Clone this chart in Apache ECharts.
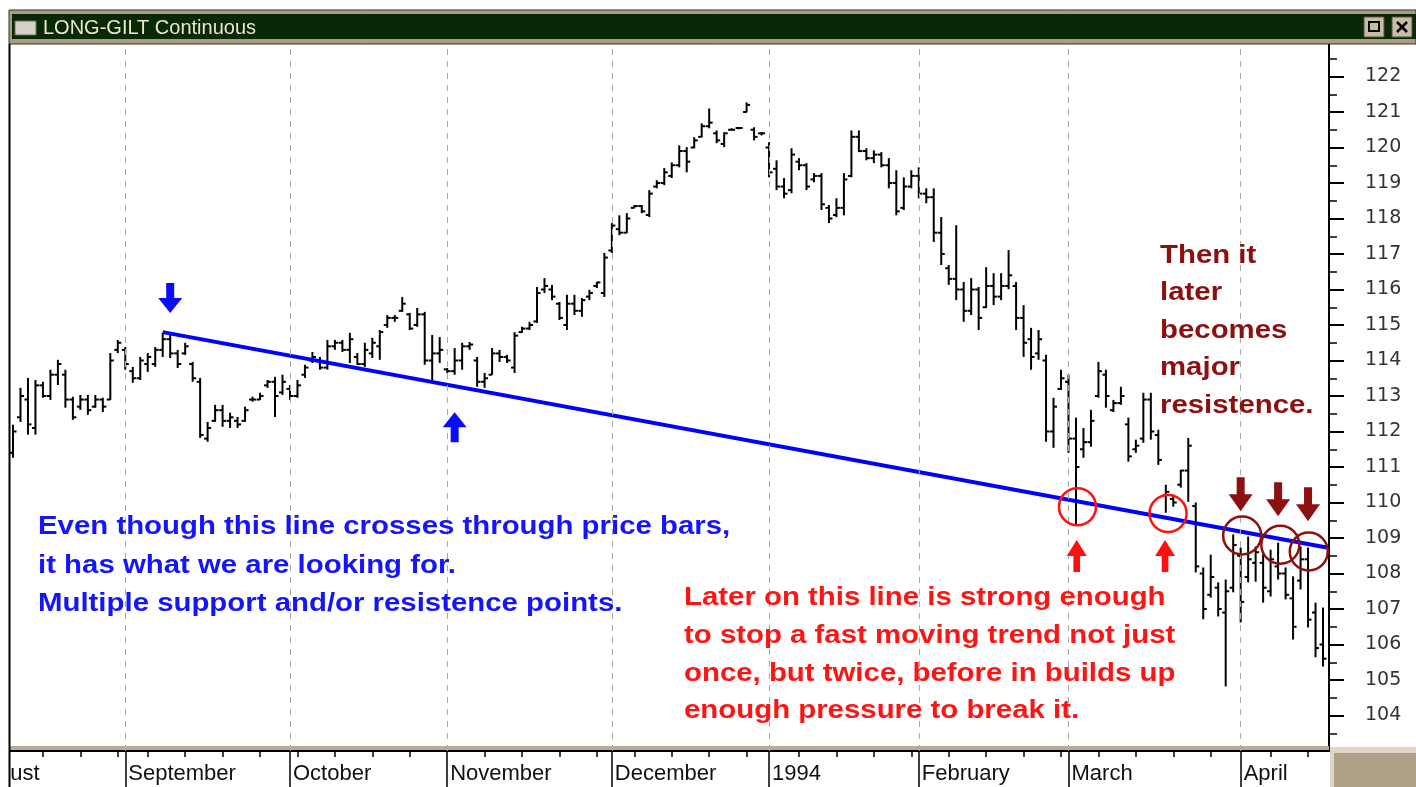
<!DOCTYPE html>
<html>
<head>
<meta charset="utf-8">
<title>LONG-GILT Continuous</title>
<script src="https://cdn.jsdelivr.net/npm/echarts@6/dist/echarts.min.js"></script>
<style>
  html, body { margin: 0; padding: 0; background: #fff; }
  #chart { width: 1416px; height: 787px; }
</style>
</head>
<body>
<div id="chart"></div>
<script>
// daily bars, [open, high, low, close], one array per month
const aug = [
  [111.4, 112.19, 111.26, 112.0], [112.4, 113.23, 112.27, 113.0], [112.9, 113.51, 111.91, 112.2],
  [112.1, 113.45, 111.91, 113.3], [113.3, 113.40, 112.95, 113.0], [113.0, 113.74, 112.89, 113.6],
  [113.6, 114.02, 113.31, 113.9], [113.6, 113.74, 112.67, 112.9], [112.9, 112.98, 112.33, 112.4],
  [112.7, 113.03, 112.61, 112.9], [112.9, 113.03, 112.47, 112.6], [112.7, 113.03, 112.67, 112.9],
  [112.9, 112.95, 112.55, 112.7], [112.9, 114.21, 112.89, 114.0], [114.3, 114.58, 114.21, 114.5]
];
const sep = [
  [114.3, 114.38, 113.74, 113.9], [113.7, 113.82, 113.37, 113.5], [113.5, 114.10, 113.45, 114.0],
  [113.9, 114.21, 113.68, 114.1], [113.9, 114.38, 113.82, 114.3], [114.3, 114.78, 114.10, 114.6],
  [114.6, 114.78, 114.07, 114.2], [114.2, 114.30, 113.79, 113.9], [114.2, 114.50, 114.16, 114.4],
  [113.9, 113.96, 113.40, 113.5], [113.4, 113.51, 111.82, 111.9], [111.8, 112.27, 111.71, 112.1],
  [112.3, 112.75, 112.27, 112.6], [112.6, 112.75, 112.13, 112.3], [112.3, 112.53, 112.10, 112.4],
  [112.3, 112.41, 112.10, 112.2], [112.3, 112.70, 112.27, 112.6], [112.9, 112.98, 112.84, 112.9],
  [112.9, 113.09, 112.89, 113.0], [113.3, 113.45, 113.23, 113.4], [113.4, 113.54, 112.41, 113.0],
  [113.1, 113.60, 113.03, 113.4]
];
const oct = [
  [113.2, 113.31, 112.89, 113.0], [113.0, 113.45, 112.95, 113.3], [113.6, 113.88, 113.51, 113.8],
  [114.0, 114.24, 113.93, 114.1], [114.0, 114.10, 113.74, 113.8], [113.8, 114.58, 113.74, 114.4],
  [114.4, 114.58, 114.30, 114.5], [114.5, 114.58, 114.24, 114.3], [114.3, 114.78, 113.93, 114.6],
  [114.1, 114.21, 113.88, 113.9], [113.9, 114.50, 113.82, 114.3], [114.2, 114.64, 114.07, 114.5],
  [114.4, 114.86, 114.02, 114.8], [115.0, 115.28, 114.92, 115.2], [115.2, 115.28, 115.09, 115.2],
  [115.4, 115.79, 115.37, 115.6], [115.3, 115.34, 114.86, 114.9], [115.0, 115.48, 114.95, 115.3],
  [115.3, 115.37, 113.88, 114.0], [114.0, 114.72, 113.45, 114.2], [114.2, 114.66, 113.93, 114.3]
];
const nov = [
  [113.75, 113.79, 113.65, 113.7], [113.7, 114.35, 113.60, 114.0], [114.0, 114.50, 113.74, 114.4],
  [114.4, 114.52, 114.30, 114.45], [114.0, 114.10, 113.26, 113.4], [113.4, 113.65, 113.23, 113.5],
  [113.6, 114.35, 113.60, 114.2], [114.2, 114.30, 113.96, 114.1], [114.1, 114.16, 113.93, 114.0],
  [113.8, 114.80, 113.65, 114.7], [114.8, 114.95, 114.78, 114.9], [114.9, 115.09, 114.86, 115.0],
  [115.1, 116.07, 115.06, 115.9], [116.0, 116.32, 115.90, 116.1], [116.0, 116.13, 115.70, 115.8],
  [115.6, 115.65, 115.14, 115.2], [115.0, 115.85, 114.86, 115.6], [115.6, 115.85, 115.28, 115.4],
  [115.4, 115.76, 115.23, 115.7], [115.8, 115.99, 115.70, 115.9], [116.1, 116.21, 116.04, 116.2],
  [115.9, 117.03, 115.79, 116.9]
];
const dec = [
  [117.1, 117.87, 117.03, 117.8], [117.7, 118.09, 117.53, 117.6], [117.6, 118.15, 117.59, 118.0],
  [118.3, 118.38, 118.29, 118.35], [118.35, 118.38, 118.15, 118.2], [118.1, 118.80, 118.04, 118.7],
  [118.9, 119.08, 118.85, 119.0], [119.0, 119.42, 118.94, 119.3], [119.2, 119.58, 119.14, 119.5],
  [119.5, 120.06, 119.44, 119.9], [119.9, 120.01, 119.30, 119.6], [120.0, 120.29, 119.98, 120.2],
  [120.3, 120.68, 120.29, 120.6], [120.6, 121.10, 120.54, 120.7], [120.4, 120.48, 120.12, 120.2],
  [120.1, 120.43, 120.01, 120.4], [120.5, 120.54, 120.48, 120.5], [120.55, 120.57, 120.54, 120.55],
  [121.0, 121.27, 120.99, 121.2], [120.5, 120.57, 120.20, 120.3], [120.4, 120.43, 120.34, 120.4]
];
const jan = [
  [120.0, 120.15, 119.16, 119.3], [119.4, 119.64, 118.80, 118.9], [118.9, 119.14, 118.57, 118.7],
  [118.8, 119.98, 118.71, 119.8], [119.6, 119.70, 119.36, 119.5], [119.5, 119.56, 118.80, 118.9],
  [119.1, 119.28, 119.02, 119.2], [119.2, 119.28, 118.24, 118.4], [118.3, 118.38, 117.87, 118.0],
  [118.1, 118.57, 118.04, 118.3], [118.3, 119.28, 118.09, 119.1], [119.2, 120.48, 119.16, 120.3],
  [120.3, 120.48, 119.87, 119.9], [119.9, 119.98, 119.64, 119.7], [119.7, 119.92, 119.56, 119.8],
  [119.8, 119.87, 119.44, 119.5], [119.5, 119.70, 118.85, 119.0], [119.0, 119.36, 118.09, 118.2],
  [118.3, 119.16, 118.24, 118.9], [118.9, 119.36, 118.85, 119.2]
];
const feb = [
  [119.2, 119.44, 118.57, 118.7], [118.7, 118.85, 118.43, 118.6], [118.6, 118.85, 117.34, 117.6],
  [117.6, 118.04, 116.69, 117.0], [116.6, 116.69, 116.13, 116.3], [116.3, 117.81, 115.70, 116.0],
  [116.0, 116.21, 115.09, 115.4], [115.4, 116.32, 115.28, 116.0], [116.0, 116.07, 114.86, 115.2],
  [115.5, 116.63, 115.48, 116.1], [116.1, 116.46, 115.56, 115.8], [115.8, 116.46, 115.70, 116.1],
  [116.1, 117.11, 116.01, 116.4], [116.1, 116.21, 114.86, 115.2], [115.2, 115.56, 114.10, 114.5],
  [114.6, 114.92, 113.74, 114.1], [114.2, 114.86, 114.02, 114.6], [114.0, 114.16, 111.71, 112.0],
  [112.0, 112.95, 111.54, 112.7], [113.2, 113.74, 113.17, 113.5]
];
const mar = [
  [113.4, 113.60, 111.40, 111.8], [111.8, 112.39, 109.38, 111.0], [111.5, 112.10, 111.26, 111.7],
  [111.7, 112.61, 111.57, 112.3], [113.0, 113.96, 112.95, 113.7], [113.6, 113.74, 112.67, 113.0],
  [112.6, 112.89, 112.55, 112.8], [112.8, 113.26, 112.75, 113.0], [112.2, 112.39, 111.15, 111.3],
  [111.5, 111.77, 111.40, 111.6], [111.8, 113.09, 111.68, 112.9], [112.9, 113.09, 111.77, 112.0],
  [111.9, 112.05, 111.06, 111.2], [110.2, 110.50, 109.71, 110.3], [110.1, 110.22, 109.88, 110.0],
  [110.5, 110.92, 110.42, 110.9], [110.9, 111.82, 110.02, 111.6], [109.9, 110.00, 108.03, 108.2],
  [108.0, 108.17, 106.71, 107.0], [107.4, 108.53, 107.32, 107.9], [107.6, 107.75, 106.79, 107.0],
  [106.9, 107.83, 104.82, 107.5], [107.6, 109.10, 107.47, 108.8]
];
const apr = [
  [108.5, 108.73, 106.62, 107.2], [107.9, 109.04, 107.75, 108.4], [108.3, 108.76, 107.77, 108.6],
  [108.3, 108.62, 107.18, 107.6], [107.5, 108.67, 107.35, 108.4], [108.2, 108.87, 107.83, 108.0],
  [108.0, 108.17, 107.27, 107.4], [107.3, 107.92, 106.14, 106.5], [107.8, 108.76, 107.55, 108.4],
  [108.4, 108.73, 106.48, 106.7], [106.9, 107.18, 105.64, 105.9], [106.0, 107.04, 105.38, 105.6]
];

const monthLabels = ['August', 'September', 'October', 'November', 'December', '1994', 'February', 'March', 'April'];
const firstDay = '1993-08-10';
const holidays = ['1993-08-30', '1993-12-27', '1993-12-28', '1994-01-03', '1994-04-01', '1994-04-04'];

// support line drawn by hand on the original: [bar index, price]
const trendLine = [[20, 114.8], [175.5, 108.73]];
// red circles where the line held, dark red circles where it became resistance
const supportHits = [[142.2, 109.88], [154.3, 109.69]];
const resistHits = [[164.2, 109.07], [169.3, 108.81], [173.1, 108.62]];
const blueDownArrow = [21, 115.76];
const blueUpArrow = [59, 112.12];
const redUpArrows = [[142.1, 108.49], [153.9, 108.49]];
const darkDownArrows = [[164.0, 110.23], [169.0, 110.09], [173.0, 109.95]];

const bars = [].concat(aug, sep, oct, nov, dec, jan, feb, mar, apr);

// trading calendar -> month boundaries and first day of each week
const isTradingDay = d => d.getUTCDay() !== 0 && d.getUTCDay() !== 6 &&
  !holidays.includes(d.toISOString().slice(0, 10));
const days = [];
let d = new Date(firstDay + 'T00:00:00Z');
while (days.length < bars.length) {
  if (isTradingDay(d)) days.push(new Date(d));
  d.setUTCDate(d.getUTCDate() + 1);
}
let augStart = 0;
for (let t = new Date(firstDay.slice(0, 8) + '01T00:00:00Z'); t < days[0]; t.setUTCDate(t.getUTCDate() + 1)) {
  if (isTradingDay(t)) augStart--;
}
const monthStarts = [];
const weekStarts = [];
for (let i = 1; i < days.length; i++) {
  if (days[i].getUTCMonth() !== days[i - 1].getUTCMonth()) monthStarts.push(i);
  if (days[i].getUTCDay() < days[i - 1].getUTCDay()) weekStarts.push(i);
}
const labelOf = {};
monthStarts.forEach((v, j) => { labelOf[v] = monthLabels[j + 1]; });

const xMin = -0.4, xMax = 175.8;
const downPath = 'path://M8,0L16,0L16,15L24,15L12,30L0,15L8,15Z';
const upPath = 'path://M12,0L24,15L16,15L16,30L8,30L8,15L0,15Z';
const FONT = '"Liberation Sans", Arial, sans-serif';

const chart = echarts.init(document.getElementById('chart'));
chart.setOption({
  animation: false,
  backgroundColor: '#fff',
  grid: { left: 10, right: 87, top: 41, bottom: 36 },
  xAxis: [
    {
      type: 'value', min: xMin, max: xMax, position: 'bottom',
      axisLine: { show: true, onZero: false, lineStyle: { color: '#000', width: 2 } },
      axisTick: { show: true, customValues: monthStarts, length: 36, lineStyle: { color: '#000', width: 1.5 } },
      axisLabel: {
        customValues: monthStarts, formatter: v => labelOf[v] || '',
        align: 'left', margin: 12, padding: [0, 0, 0, 3],
        fontFamily: FONT, fontSize: 22, color: '#111'
      },
      splitLine: { show: false }
    },
    {
      type: 'value', min: xMin, max: xMax, position: 'bottom',
      axisLine: { show: false, onZero: false },
      axisTick: { show: true, customValues: weekStarts, length: 6, lineStyle: { color: '#000', width: 1.5 } },
      axisLabel: { show: false },
      splitLine: { show: false }
    }
  ],
  yAxis: {
    type: 'value', position: 'right', min: 103, max: 123, interval: 1,
    axisLine: { show: true, onZero: false, lineStyle: { color: '#000', width: 2 } },
    axisTick: { show: true, length: 15, lineStyle: { color: '#000', width: 2 } },
    minorTick: { show: true, splitNumber: 2, length: 8, lineStyle: { color: '#000', width: 1.5 } },
    axisLabel: {
      margin: 36, fontFamily: '"DejaVu Sans", sans-serif', fontSize: 19, color: '#333',
      formatter: v => (v >= 104 && v <= 122 ? String(v) : '')
    },
    splitLine: { show: false }
  },
  series: [
    {
      type: 'custom',
      data: bars.map((b, i) => [i, b[0], b[1], b[2], b[3]]),
      encode: { x: 0, y: [1, 2, 3, 4] },
      renderItem(params, api) {
        const x = api.value(0);
        const hi = api.coord([x, api.value(2)]);
        const lo = api.coord([x, api.value(3)]);
        const op = api.coord([x, api.value(1)]);
        const cl = api.coord([x, api.value(4)]);
        const st = { stroke: '#000', lineWidth: 2 };
        const bottom = Math.max(lo[1], hi[1] + 2);
        return {
          type: 'group',
          children: [
            { type: 'line', shape: { x1: hi[0], y1: hi[1], x2: hi[0], y2: bottom }, style: st },
            { type: 'line', shape: { x1: op[0] - 3.5, y1: op[1], x2: op[0], y2: op[1] }, style: st },
            { type: 'line', shape: { x1: cl[0], y1: cl[1], x2: cl[0] + 3.5, y2: cl[1] }, style: st }
          ]
        };
      },
      markLine: {
        silent: true, symbol: ['none', 'none'], label: { show: false },
        lineStyle: { color: '#a8a8a8', type: [6, 6], width: 1 },
        data: monthStarts.map(v => ({ xAxis: v }))
      },
      z: 3
    },
    {
      type: 'line',
      data: trendLine,
      symbol: 'none',
      lineStyle: { color: '#0000ff', width: 4 },
      z: 4,
      markPoint: {
        silent: true,
        label: { show: false },
        data: [].concat(
          supportHits.map(c => ({ coord: c, symbol: 'circle', symbolSize: 37,
            itemStyle: { color: 'transparent', borderColor: '#ff1010', borderWidth: 2.5 } })),
          resistHits.map(c => ({ coord: c, symbol: 'circle', symbolSize: 38,
            itemStyle: { color: 'transparent', borderColor: '#8c1010', borderWidth: 2.5 } })),
          [{ coord: blueDownArrow, symbol: downPath, symbolSize: [24, 30], itemStyle: { color: '#0a0aff' } },
           { coord: blueUpArrow, symbol: upPath, symbolSize: [24, 30], itemStyle: { color: '#0a0aff' } }],
          redUpArrows.map(c => ({ coord: c, symbol: upPath, symbolSize: [20, 32], itemStyle: { color: '#ff1010' } })),
          darkDownArrows.map(c => ({ coord: c, symbol: downPath, symbolSize: [24, 34], itemStyle: { color: '#8c1010' } }))
        )
      }
    }
  ]
});

// window chrome and the hand-written notes
const augX = chart.convertToPixel({ xAxisIndex: 0 }, augStart);
const note = (text, x, y, color) => ({
  type: 'text', x, y, z: 120, scaleX: 1.13,
  style: { text, fill: color, font: 'bold 26px ' + FONT, verticalAlign: 'middle' }
});
chart.setOption({
  graphic: [
    { type: 'rect', z: 100, shape: { x: 0, y: 0, width: 9, height: 787 }, style: { fill: '#fff' } },
    { type: 'line', z: 101, shape: { x1: 9.5, y1: 44, x2: 9.5, y2: 787 }, style: { stroke: '#000', lineWidth: 2 } },
    { type: 'rect', z: 100, shape: { x: 9, y: 10, width: 1407, height: 34 }, style: { fill: '#a89c84', stroke: '#3a3020', lineWidth: 1 } },
    { type: 'rect', z: 101, shape: { x: 12, y: 14, width: 1404, height: 25 }, style: { fill: '#082806' } },
    { type: 'rect', z: 102, shape: { x: 15, y: 21, width: 21, height: 14 }, style: { fill: '#d4d2c8', stroke: '#6c6c64', lineWidth: 1 } },
    { type: 'text', z: 102, x: 43, y: 28, style: { text: 'LONG-GILT Continuous', fill: '#ece8c4', font: '20px ' + FONT, verticalAlign: 'middle' } },
    { type: 'rect', z: 102, shape: { x: 1364, y: 17, width: 20, height: 20 }, style: { fill: '#c8bca4', stroke: '#5a5040', lineWidth: 1 } },
    { type: 'rect', z: 103, shape: { x: 1369, y: 22, width: 10, height: 9 }, style: { fill: 'none', stroke: '#000', lineWidth: 2 } },
    { type: 'rect', z: 102, shape: { x: 1392, y: 17, width: 20, height: 20 }, style: { fill: '#c8bca4', stroke: '#5a5040', lineWidth: 1 } },
    { type: 'line', z: 103, shape: { x1: 1397, y1: 22, x2: 1407, y2: 32 }, style: { stroke: '#000', lineWidth: 2.5 } },
    { type: 'line', z: 103, shape: { x1: 1407, y1: 22, x2: 1397, y2: 32 }, style: { stroke: '#000', lineWidth: 2.5 } },
    { type: 'rect', z: 100, shape: { x: 9, y: 746, width: 1320, height: 4 }, style: { fill: '#b8ac94' } },
    { type: 'rect', z: 100, shape: { x: 1330, y: 747, width: 86, height: 40 }, style: { fill: '#ddd6c8' } },
    { type: 'rect', z: 101, shape: { x: 1334, y: 753, width: 82, height: 34 }, style: { fill: '#b1a188' } },
    { type: 'text', z: 99, x: augX + 3, y: 774, style: { text: monthLabels[0], fill: '#111', font: '22px ' + FONT, verticalAlign: 'middle' } },

    note('Even though this line crosses through price bars,', 38, 527, '#1414ff'),
    note('it has what we are looking for.', 38, 566, '#1414ff'),
    note('Multiple support and/or resistence points.', 38, 604, '#1414ff'),

    note('Later on this line is strong enough', 684, 598, '#ff1414'),
    note('to stop a fast moving trend not just', 684, 636, '#ff1414'),
    note('once, but twice, before in builds up', 684, 674, '#ff1414'),
    note('enough pressure to break it.', 684, 711, '#ff1414'),

    note('Then it', 1160, 256, '#8c1010'),
    note('later', 1160, 293, '#8c1010'),
    note('becomes', 1160, 331, '#8c1010'),
    note('major', 1160, 368, '#8c1010'),
    note('resistence.', 1160, 406, '#8c1010')
  ]
});
</script>
</body>
</html>
